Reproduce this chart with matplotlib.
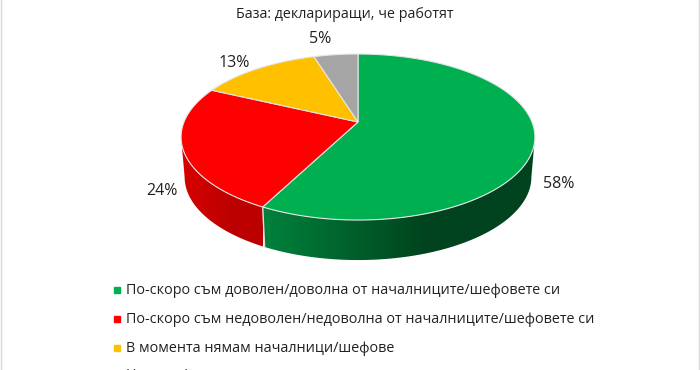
import numpy as np
import matplotlib
matplotlib.use('Agg')
import matplotlib.pyplot as plt
from matplotlib.colors import to_rgb
from matplotlib.patches import Polygon

plt.rcParams['font.family'] = ['Open Sans', 'DejaVu Sans']

labels = ['По-скоро съм доволен/доволна от началниците/шефовете си',
          'По-скоро съм недоволен/недоволна от началниците/шефовете си',
          'В момента нямам началници/шефове',
          'Не мога/не искам да преценя']
# the labels show them rounded
values = [57.6, 24.4, 13.2, 4.8]
colors = ['#00B050', '#FF0000', '#FFC000', '#A5A5A5']
side_left = ['#00823B', '#D80000', '#D9A300', '#8C8C8C']
side_right = ['#00431E', '#BC0000', '#A67C00', '#6E6E6E']
subtitle = 'База: деклариращи, че работят'
label_pos = [(559, 183.5), (162, 191), (234, 63), (320, 39)]

# pie geometry in pixels, apex sits above the middle of the ellipse
cx, cy = 358, 122
rx, ry = 174, 80.3
tilt = 0.181
depth = 40
bottom_scale = 0.98


def rim(a1, a2, n=150):
    # a1, a2 in percent of the circle, clockwise from 12 o'clock
    t = np.linspace(a1, a2, n) / 100 * 2 * np.pi
    d = 1 + tilt * np.cos(t)
    return cx + rx * np.sin(t) / d, cy - ry * np.cos(t) / d


fig = plt.figure(figsize=(7, 3.7), dpi=100)
ax = fig.add_axes([0, 0, 1, 1])
ax.set_xlim(0, 700)
ax.set_ylim(370, 0)
ax.axis('off')

starts = np.cumsum([0] + values[:-1])
ends = np.cumsum(values)
# widest points of the rim, the wall is only seen between them
vis1 = np.degrees(np.arccos(-tilt)) / 3.6
vis2 = 100 - vis1

for i in range(len(values)):
    a1, a2 = max(starts[i], vis1), min(ends[i], vis2)
    if a2 <= a1:
        continue
    x, y = rim(a1, a2)
    xb = cx + (x - cx) * bottom_scale
    pts = np.vstack([np.column_stack([x, y]), np.column_stack([xb, y + depth])[::-1]])
    poly = Polygon(pts, closed=True, fc='none', ec='none')
    ax.add_patch(poly)
    # the shading goes dark early and stays flat towards the right
    ramp = np.clip(np.linspace(0, 1, 256) / 0.6, 0, 1)[:, None]
    grad = np.array(to_rgb(side_left[i])) * (1 - ramp) + np.array(to_rgb(side_right[i])) * ramp
    im = ax.imshow(grad.reshape(1, 256, 3), extent=[x.min(), x.max(), 370, 0], aspect='auto', zorder=2)
    im.set_clip_path(poly)

# seam between green and red on the wall
sx, sy = rim(ends[0], ends[0], 2)
ax.plot([sx[0], cx + (sx[0] - cx) * bottom_scale], [sy[0], sy[0] + depth], color='#E0E0E0', lw=1, zorder=3)

# top of the pie
for i in range(len(values)):
    x, y = rim(starts[i], ends[i])
    pts = np.vstack([[cx, cy], np.column_stack([x, y])])
    ax.add_patch(Polygon(pts, closed=True, fc=colors[i], ec='#E6E6E6', lw=0.8, zorder=4))

ax.set_xlim(0, 700)
ax.set_ylim(370, 0)

for v, (lx, ly) in zip(values, label_pos):
    ax.text(lx, ly, f'{v:.0f}%', ha='center', va='center', fontsize=11.5, color='#222222')

ax.text(345, 15, subtitle, ha='center', va='center', fontsize=10.3, color='#222222')

# legend, last row runs off the bottom of the image
leg_y = [291, 319.5, 348.5, 375.5]
for lab, c, ly in zip(labels, colors, leg_y):
    ax.plot([117], [ly - 1], marker='s', ms=4.5, color=c, ls='none')
    ax.text(126, ly, lab, ha='left', va='center', fontsize=10.4, color='#222222', clip_on=True)

# thin frame edges of the source image
ax.axvline(0.5, color='#D9D9D9', lw=1)
ax.axvline(698.5, color='#D9D9D9', lw=1)

fig.savefig('out.png', dpi=100)
